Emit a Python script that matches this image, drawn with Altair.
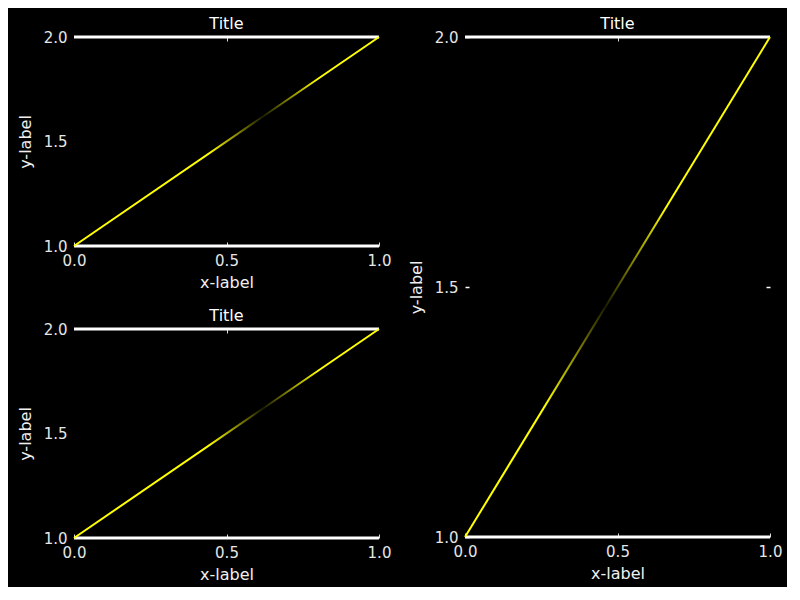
import altair as alt
import pandas as pd

# ---- data ----
x_vals = [0.0, 1.0]
y_vals = [1.0, 2.0]
spine_y = [1.0, 2.0]
x_ticks = [0.0, 0.5, 1.0]
y_ticks = [1.0, 1.5, 2.0]
title_text = "Title"
x_label = "x-label"
y_label = "y-label"

line_df = pd.DataFrame({"x": x_vals, "y": y_vals})
spine_df = pd.DataFrame({"y": spine_y})

FONT = "DejaVu Sans"
XS = alt.Scale(domain=[0, 1], nice=False)
YS = alt.Scale(domain=[1, 2], zero=False, nice=False)


def make_grad(center, half):
    return alt.LinearGradient(
        gradient="linear",
        x1=0, x2=1, y1=0, y2=0,
        stops=[
            alt.GradientStop(offset=0.0, color="#ffff00"),
            alt.GradientStop(offset=center - half, color="#ffff00"),
            alt.GradientStop(offset=center, color="#1c1c00"),
            alt.GradientStop(offset=center + half, color="#ffff00"),
            alt.GradientStop(offset=1.0, color="#ffff00"),
        ],
    )


def panel(w, h, center, half, right_ticks):
    xenc = alt.X(
        "x:Q", scale=XS,
        axis=alt.Axis(values=x_ticks, format=".1f", title=x_label,
                      labelFlush=False, labelOverlap=False,
                      offset=-4, ticks=True, tickSize=4, tickWidth=1,
                      tickColor="#dddddd",
                      labelPadding=7, titlePadding=6),
    )
    yenc = alt.Y(
        "y:Q", scale=YS,
        axis=alt.Axis(values=y_ticks, format=".1f", title=y_label,
                      labelFlush=False, labelOverlap=False,
                      offset=-4 if right_ticks else 0,
                      ticks=right_ticks, tickSize=4, tickWidth=1.5,
                      tickColor="white",
                      labelPadding=7 if right_ticks else 7, titlePadding=10),
    )
    spines = alt.Chart(spine_df).mark_rule(color="white", strokeWidth=3).encode(
        y=alt.Y("y:Q", scale=YS, axis=None)
    )
    line = alt.Chart(line_df).mark_line(
        stroke=make_grad(center, half), strokeWidth=2
    ).encode(x=xenc, y=yenc)
    ghost_y_axis = (
        alt.Axis(orient="right", values=[1.5], labels=False, title=None,
                 offset=-4, ticks=True, tickSize=4, tickWidth=1.5,
                 tickColor="white")
        if right_ticks else None
    )
    ghost = alt.Chart(line_df).mark_line(opacity=0).encode(
        x=alt.X("x:Q", scale=XS,
                axis=alt.Axis(orient="top", values=[0.5], labels=False,
                              title=None, offset=-4, ticks=True, tickSize=4,
                              tickWidth=1, tickColor="#dddddd")),
        y=alt.Y("y:Q", scale=YS, axis=ghost_y_axis),
    )
    return (
        alt.layer(spines, line, ghost)
        .resolve_axis(x="independent", y="independent")
        .properties(width=w, height=h, title=title_text)
    )


top_left = panel(305, 209, 0.62, 0.18, False)
bottom_left = panel(305, 209, 0.62, 0.18, False)
right = panel(305, 500, 0.46, 0.2, True)

left_col = alt.vconcat(top_left, bottom_left, spacing=18)
chart = alt.hconcat(left_col, right, spacing=17).properties(
    padding={"left": 9, "top": 8, "right": 5, "bottom": 5},
    background="black",
).configure_view(stroke=None).configure_axis(
    domain=False,
    grid=False,
    labelFont=FONT,
    labelFontSize=15,
    labelColor="#e6e6e6",
    titleFont=FONT,
    titleFontSize=16,
    titleFontWeight="normal",
    titleColor="#f0f0f0",
).configure_title(
    font=FONT,
    fontSize=16,
    fontWeight="normal",
    color="white",
    offset=-2,
    anchor="middle",
)

chart.save("out.html", embed_options={"renderer": "svg", "actions": False})
